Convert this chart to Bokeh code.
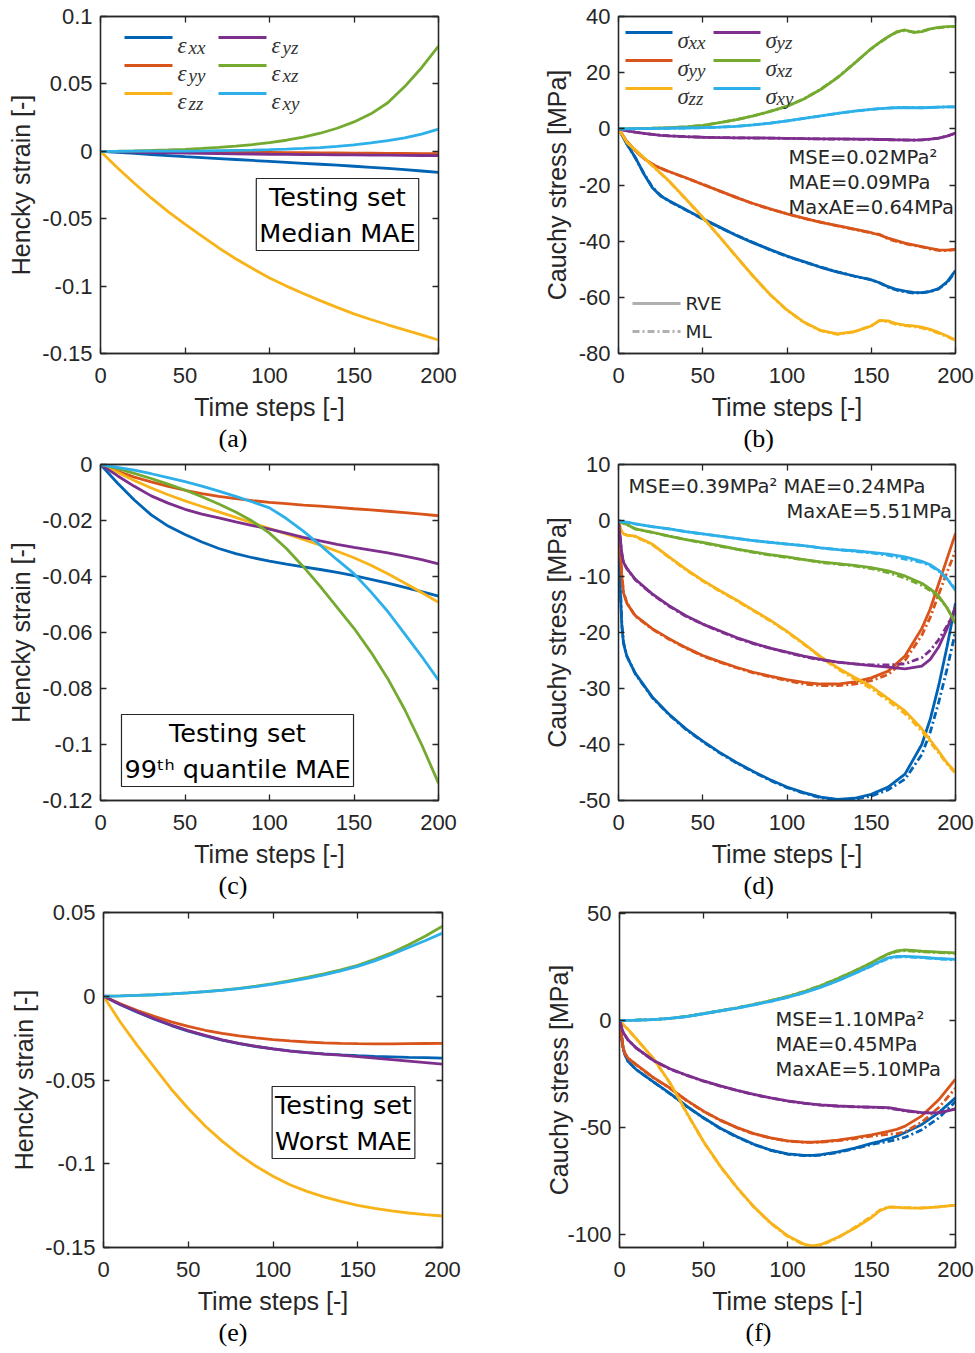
from bokeh.plotting import figure
from bokeh.layouts import column, row
from bokeh.models import Range1d, LinearAxis, FixedTicker, Label, Arrow, Title
from bokeh.embed import file_html
from bokeh.resources import INLINE

# ---------------- data ----------------
X_TICKS = [0, 50, 100, 150, 200]
X_TICK_LABELS = ["0", "50", "100", "150", "200"]
X_LABEL = "Time steps [-]"
STRAIN_LABEL = "Hencky strain [-]"
STRESS_LABEL = "Cauchy stress [MPa]"
COMPONENTS = ["xx", "yy", "zz", "yz", "xz", "xy"]

T10 = [0, 10, 20, 30, 40, 50, 60, 70, 80, 90, 100, 110, 120, 130, 140, 150, 160, 170, 180, 190, 200]

# (a) strain, median MAE
A_YTICKS = [-0.15, -0.1, -0.05, 0, 0.05, 0.1]
A_YTICK_LABELS = ["-0.15", "-0.1", "-0.05", "0", "0.05", "0.1"]
a_xx = [0, -0.0008, -0.0016, -0.0024, -0.0032, -0.0040, -0.0047, -0.0054, -0.0061, -0.0068, -0.0075, -0.0082, -0.0089, -0.0096, -0.0103, -0.0111, -0.0119, -0.0127, -0.0136, -0.0146, -0.0156]
a_yy = [0, -0.0001, -0.0002, -0.0003, -0.0004, -0.0005, -0.0006, -0.0006, -0.0007, -0.0008, -0.0009, -0.0010, -0.0010, -0.0011, -0.0012, -0.0013, -0.0014, -0.0015, -0.0016, -0.0017, -0.0018]
a_zz = [0, -0.0122, -0.0237, -0.0346, -0.0448, -0.0540, -0.0630, -0.0717, -0.0797, -0.0870, -0.0940, -0.1000, -0.1055, -0.1108, -0.1158, -0.1206, -0.1248, -0.1287, -0.1325, -0.1362, -0.1400]
a_yz = [0, -0.0003, -0.0006, -0.0009, -0.0011, -0.0013, -0.0015, -0.0017, -0.0019, -0.0020, -0.0022, -0.0023, -0.0024, -0.0025, -0.0026, -0.0027, -0.0028, -0.0029, -0.0030, -0.0031, -0.0032]
a_xz = [0, 0.0001, 0.0003, 0.0006, 0.0010, 0.0015, 0.0021, 0.0029, 0.0039, 0.0050, 0.0064, 0.0082, 0.0105, 0.0134, 0.0171, 0.0218, 0.0278, 0.0360, 0.0480, 0.0620, 0.0780]
a_xy = [0, 0.0000, 0.0001, 0.0001, 0.0002, 0.0002, 0.0003, 0.0005, 0.0007, 0.0009, 0.0012, 0.0016, 0.0021, 0.0028, 0.0037, 0.0048, 0.0062, 0.0079, 0.0100, 0.0128, 0.0164]

# (b) stress, median MAE
B_YTICKS = [-80, -60, -40, -20, 0, 20, 40]
B_YTICK_LABELS = ["-80", "-60", "-40", "-20", "0", "20", "40"]
T_B = [0, 5, 10, 15, 20, 25, 30, 40, 50, 60, 70, 80, 90, 100, 110, 120, 130, 140, 150, 155, 160, 165, 170, 175, 180, 185, 190, 195, 200]
b_rve_xx = [0, -5.5, -10.2, -16.0, -20.9, -23.9, -25.6, -28.8, -32.0, -35.0, -38.0, -40.6, -43.0, -45.3, -47.3, -49.3, -51.0, -52.4, -53.8, -54.8, -56.2, -57.2, -57.8, -58.2, -58.3, -57.9, -56.9, -54.5, -50.5]
b_rve_yy = [0, -4.5, -7.8, -10.5, -12.6, -14.0, -15.2, -17.4, -19.8, -22.1, -24.5, -26.6, -28.5, -30.3, -31.8, -33.3, -34.5, -35.7, -37.0, -37.8, -38.9, -39.8, -40.7, -41.3, -41.9, -42.6, -43.1, -43.2, -42.8]
b_rve_zz = [0, -4.8, -7.5, -10.2, -13.0, -15.8, -18.6, -25.0, -31.5, -38.5, -45.5, -52.5, -59.0, -64.5, -68.8, -71.8, -73.0, -72.2, -70.2, -68.2, -68.4, -69.4, -69.9, -70.2, -70.6, -71.4, -72.5, -73.8, -75.2]
b_rve_yz = [0, -0.7, -1.2, -1.6, -2.0, -2.3, -2.5, -2.8, -3.0, -3.1, -3.2, -3.2, -3.3, -3.4, -3.5, -3.6, -3.6, -3.7, -3.7, -3.8, -3.8, -3.9, -3.9, -4.0, -3.9, -3.7, -3.3, -2.6, -1.5]
b_rve_xz = [0, 0.05, 0.1, 0.15, 0.2, 0.3, 0.4, 0.7, 1.2, 2.2, 3.3, 4.6, 6.2, 8.0, 10.6, 14.0, 18.2, 23.3, 28.6, 30.8, 32.8, 34.5, 35.2, 34.3, 34.6, 35.6, 36.1, 36.4, 36.5]
b_rve_xy = [0, 0.0, 0.05, 0.1, 0.1, 0.15, 0.2, 0.3, 0.4, 0.6, 0.9, 1.4, 2.0, 2.8, 3.7, 4.6, 5.5, 6.3, 6.9, 7.2, 7.4, 7.5, 7.6, 7.5, 7.5, 7.6, 7.7, 7.8, 7.8]
b_ml_xx = [0, -5.3, -10.4, -15.8, -20.7, -23.7, -25.8, -28.9, -32.1, -35.1, -37.9, -40.5, -43.1, -45.4, -47.4, -49.2, -50.9, -52.5, -53.7, -54.9, -56.4, -57.4, -58.1, -58.5, -58.4, -58.0, -57.0, -54.8, -50.8]
b_ml_yy = [0, -4.6, -7.7, -10.6, -12.5, -14.1, -15.3, -17.5, -19.7, -22.2, -24.4, -26.7, -28.6, -30.2, -31.9, -33.2, -34.6, -35.8, -37.1, -37.6, -39.2, -40.1, -40.9, -41.5, -42.0, -42.8, -43.3, -43.4, -43.0]
b_ml_zz = [0, -4.9, -7.6, -10.3, -13.1, -15.9, -18.7, -25.1, -31.6, -38.4, -45.6, -52.6, -59.1, -64.6, -68.9, -71.9, -73.2, -72.3, -70.1, -68.3, -68.7, -69.7, -70.1, -70.4, -70.9, -71.7, -72.8, -74.0, -75.4]
b_ml_yz = [0, -0.7, -1.2, -1.6, -2.0, -2.3, -2.5, -2.8, -3.0, -3.1, -3.2, -3.3, -3.3, -3.4, -3.5, -3.6, -3.7, -3.7, -3.8, -3.8, -3.9, -3.9, -4.0, -4.0, -3.9, -3.7, -3.3, -2.6, -1.6]
b_ml_xz = [0, 0.05, 0.1, 0.15, 0.2, 0.3, 0.4, 0.7, 1.2, 2.2, 3.3, 4.6, 6.2, 8.1, 10.7, 14.1, 18.3, 23.4, 28.5, 30.7, 32.7, 34.4, 35.0, 34.5, 34.7, 35.6, 36.0, 36.3, 36.4]
b_ml_xy = [0, 0.0, 0.05, 0.1, 0.1, 0.15, 0.2, 0.3, 0.4, 0.6, 0.9, 1.4, 2.0, 2.8, 3.7, 4.6, 5.5, 6.3, 6.9, 7.2, 7.4, 7.6, 7.6, 7.6, 7.5, 7.6, 7.7, 7.8, 7.8]
B_STATS = ["MSE=0.02MPa\u00b2", "MAE=0.09MPa", "MaxAE=0.64MPa"]

# (c) strain, 99th quantile MAE
C_YTICKS = [-0.12, -0.1, -0.08, -0.06, -0.04, -0.02, 0]
C_YTICK_LABELS = ["-0.12", "-0.1", "-0.08", "-0.06", "-0.04", "-0.02", "0"]
c_xx = [0, -0.0066, -0.0127, -0.0180, -0.0220, -0.0250, -0.0277, -0.0300, -0.0318, -0.0333, -0.0345, -0.0356, -0.0366, -0.0375, -0.0385, -0.0397, -0.0410, -0.0424, -0.0439, -0.0454, -0.0470]
c_yy = [0, -0.0024, -0.0045, -0.0062, -0.0078, -0.0092, -0.0104, -0.0114, -0.0122, -0.0129, -0.0135, -0.0140, -0.0145, -0.0149, -0.0153, -0.0158, -0.0162, -0.0167, -0.0172, -0.0177, -0.0183]
c_zz = [0, -0.0028, -0.0057, -0.0084, -0.0108, -0.0130, -0.0150, -0.0169, -0.0189, -0.0209, -0.0229, -0.0248, -0.0268, -0.0288, -0.0310, -0.0333, -0.0360, -0.0390, -0.0423, -0.0457, -0.0492]
c_yz = [0, -0.0040, -0.0078, -0.0112, -0.0138, -0.0160, -0.0177, -0.0191, -0.0205, -0.0218, -0.0231, -0.0245, -0.0260, -0.0273, -0.0285, -0.0296, -0.0306, -0.0316, -0.0327, -0.0340, -0.0355]
c_xz = [0, -0.0015, -0.0032, -0.0050, -0.0070, -0.0091, -0.0115, -0.0141, -0.0170, -0.0203, -0.0245, -0.0300, -0.0365, -0.0435, -0.0510, -0.0585, -0.0670, -0.0765, -0.0875, -0.1000, -0.1138]
c_xy = [0, -0.0010, -0.0020, -0.0033, -0.0047, -0.0061, -0.0077, -0.0095, -0.0114, -0.0134, -0.0155, -0.0193, -0.0238, -0.0288, -0.0340, -0.0390, -0.0455, -0.0525, -0.0605, -0.0685, -0.0770]

# (d) stress, 99th quantile MAE
D_YTICKS = [-50, -40, -30, -20, -10, 0, 10]
D_YTICK_LABELS = ["-50", "-40", "-30", "-20", "-10", "0", "10"]
T_D = [0, 1, 2, 3, 5, 10, 20, 30, 40, 50, 60, 70, 80, 90, 100, 110, 120, 130, 140, 150, 160, 170, 180, 185, 190, 195, 200]
d_rve_xx = [0, -12, -19, -22, -24.3, -27.3, -31.5, -34.6, -37.2, -39.4, -41.4, -43.2, -44.8, -46.3, -47.6, -48.6, -49.4, -49.8, -49.6, -48.9, -47.6, -45.3, -40.0, -35.5, -29.5, -22.5, -14.8]
d_rve_yy = [0, -5, -10, -13, -14.8, -17.0, -19.3, -21.1, -22.7, -24.1, -25.2, -26.2, -27.1, -27.8, -28.4, -28.9, -29.2, -29.2, -28.8, -28.1, -26.9, -24.2, -19.3, -15.8, -11.3, -6.8, -2.3]
d_rve_zz = [0, -1.2, -2.0, -2.4, -2.6, -2.8, -4.2, -6.5, -8.7, -10.7, -12.5, -14.2, -16.0, -17.8, -19.8, -22.0, -24.3, -26.3, -28.0, -29.6, -31.8, -34.0, -37.2, -39.2, -41.2, -43.3, -44.9]
d_rve_yz = [0, -3, -6, -7.5, -8.6, -10.5, -13.1, -15.2, -17.0, -18.5, -19.7, -20.9, -21.9, -22.8, -23.5, -24.2, -24.8, -25.3, -25.6, -25.9, -26.2, -26.5, -26.0, -24.8, -22.6, -19.3, -15.5]
d_rve_xz = [0, -0.2, -0.4, -0.5, -0.7, -1.5, -2.1, -2.8, -3.4, -3.9, -4.5, -5.1, -5.6, -6.1, -6.5, -7.0, -7.4, -7.7, -8.0, -8.4, -9.0, -9.9, -11.2, -12.2, -13.5, -15.6, -18.4]
d_rve_xy = [0, -0.1, -0.2, -0.25, -0.3, -0.6, -1.1, -1.5, -2.0, -2.4, -2.8, -3.2, -3.6, -3.9, -4.2, -4.5, -4.9, -5.2, -5.4, -5.7, -6.0, -6.5, -7.3, -7.9, -8.9, -10.4, -12.5]
d_ml_xx = [0, -11, -18.5, -21.8, -24.2, -27.4, -31.6, -34.7, -37.3, -39.5, -41.5, -43.3, -44.9, -46.4, -47.7, -48.7, -49.5, -49.9, -49.8, -49.2, -48.1, -46.2, -41.8, -37.8, -32.5, -26.5, -19.8]
d_ml_yy = [0, -4.8, -9.8, -12.8, -14.7, -17.1, -19.4, -21.2, -22.8, -24.2, -25.3, -26.3, -27.2, -27.9, -28.6, -29.2, -29.5, -29.5, -29.2, -28.6, -27.5, -25.0, -20.5, -17.3, -13.2, -9.2, -5.4]
d_ml_zz = [0, -1.2, -2.0, -2.4, -2.6, -2.9, -4.3, -6.6, -8.8, -10.8, -12.6, -14.3, -16.1, -17.9, -19.9, -22.1, -24.4, -26.5, -28.3, -30.0, -32.2, -34.5, -37.6, -39.6, -41.5, -43.5, -45.1]
d_ml_yz = [0, -3, -6, -7.5, -8.6, -10.6, -13.2, -15.3, -17.1, -18.5, -19.8, -21.0, -22.0, -22.8, -23.6, -24.3, -24.9, -25.3, -25.6, -25.8, -25.8, -25.6, -24.5, -23.2, -21.3, -18.8, -15.8]
d_ml_xz = [0, -0.2, -0.4, -0.5, -0.7, -1.5, -2.1, -2.8, -3.4, -4.0, -4.6, -5.1, -5.7, -6.2, -6.6, -7.0, -7.5, -7.8, -8.1, -8.6, -9.3, -10.3, -11.6, -12.5, -13.7, -15.6, -18.2]
d_ml_xy = [0, -0.1, -0.2, -0.25, -0.3, -0.6, -1.1, -1.5, -2.0, -2.4, -2.8, -3.2, -3.6, -3.9, -4.2, -4.5, -4.9, -5.2, -5.5, -5.8, -6.2, -6.9, -7.5, -8.1, -9.0, -10.4, -12.3]
D_STATS = ["MSE=0.39MPa\u00b2 MAE=0.24MPa", "MaxAE=5.51MPa"]

# (e) strain, worst MAE
E_YTICKS = [-0.15, -0.1, -0.05, 0, 0.05]
E_YTICK_LABELS = ["-0.15", "-0.1", "-0.05", "0", "0.05"]
e_xx = [0, -0.0050, -0.0095, -0.0137, -0.0175, -0.0208, -0.0237, -0.0262, -0.0283, -0.0300, -0.0314, -0.0326, -0.0336, -0.0344, -0.0350, -0.0355, -0.0359, -0.0362, -0.0365, -0.0367, -0.0369]
e_yy = [0, -0.0045, -0.0085, -0.0120, -0.0153, -0.0180, -0.0203, -0.0222, -0.0237, -0.0249, -0.0259, -0.0267, -0.0273, -0.0278, -0.0281, -0.0283, -0.0284, -0.0284, -0.0283, -0.0282, -0.0281]
e_zz = [0, -0.0155, -0.0295, -0.0425, -0.0555, -0.0670, -0.0775, -0.0865, -0.0945, -0.1015, -0.1075, -0.1125, -0.1165, -0.1198, -0.1225, -0.1248, -0.1266, -0.1281, -0.1294, -0.1304, -0.1312]
e_yz = [0, -0.0049, -0.0093, -0.0134, -0.0172, -0.0205, -0.0234, -0.0260, -0.0281, -0.0299, -0.0314, -0.0327, -0.0337, -0.0345, -0.0352, -0.0360, -0.0369, -0.0378, -0.0387, -0.0396, -0.0405]
e_xz = [0, 0.0002, 0.0005, 0.0009, 0.0014, 0.0020, 0.0027, 0.0036, 0.0047, 0.0060, 0.0076, 0.0093, 0.0112, 0.0133, 0.0157, 0.0185, 0.0220, 0.0260, 0.0307, 0.0360, 0.0418]
e_xy = [0, 0.0002, 0.0005, 0.0009, 0.0014, 0.0020, 0.0027, 0.0035, 0.0045, 0.0058, 0.0073, 0.0089, 0.0107, 0.0128, 0.0151, 0.0178, 0.0211, 0.0249, 0.0291, 0.0333, 0.0377]

# (f) stress, worst MAE
F_YTICKS = [-100, -50, 0, 50]
F_YTICK_LABELS = ["-100", "-50", "0", "50"]
T_F = [0, 1, 2, 3, 5, 10, 20, 30, 40, 50, 60, 70, 80, 90, 100, 110, 115, 120, 130, 140, 150, 155, 160, 165, 170, 180, 190, 200]
f_rve_xx = [0, -6, -12, -15.5, -19, -22.9, -28.5, -34.0, -40.0, -45.4, -50.3, -54.3, -57.8, -60.5, -62.3, -63.0, -63.0, -62.6, -61.3, -59.6, -57.4, -56.4, -55.3, -54.0, -52.3, -48.5, -43.0, -36.1]
f_rve_yy = [0, -6, -12, -15, -17.5, -20.6, -26.5, -31.5, -37.3, -42.3, -46.5, -50.0, -52.8, -54.8, -56.2, -56.8, -56.8, -56.6, -55.8, -54.7, -53.4, -52.6, -51.8, -50.8, -49.3, -44.5, -37.0, -27.4]
f_rve_zz = [0, -0.8, -1.7, -2.5, -4.0, -8.5, -17.5, -29.0, -43.0, -56.5, -68.0, -78.0, -87.0, -94.5, -100.5, -104.5, -105.2, -104.6, -101.2, -97.0, -92.0, -88.8, -87.2, -87.3, -87.5, -87.6, -87.0, -86.2]
f_rve_yz = [0, -2.5, -5.0, -6.5, -9.0, -12.8, -18.5, -22.5, -25.5, -28.2, -30.5, -32.6, -34.5, -36.1, -37.5, -38.6, -39.0, -39.4, -39.9, -40.2, -40.4, -40.5, -40.7, -41.3, -42.0, -43.0, -43.1, -41.4]
f_rve_xz = [0, 0.0, 0.0, 0.05, 0.1, 0.2, 0.5, 1.0, 2.0, 3.3, 4.6, 6.0, 7.6, 9.3, 11.2, 13.6, 15.0, 16.4, 19.6, 23.2, 27.0, 29.2, 31.2, 32.6, 33.0, 32.4, 32.0, 31.6]
f_rve_xy = [0, 0.0, 0.0, 0.05, 0.1, 0.2, 0.5, 1.0, 1.9, 3.2, 4.5, 5.8, 7.4, 9.0, 10.8, 13.0, 14.3, 15.6, 18.6, 22.0, 25.6, 27.6, 29.3, 30.0, 30.0, 29.6, 29.0, 28.6]
f_ml_xx = [0, -6, -12, -15.5, -19, -22.9, -28.6, -34.1, -40.1, -45.5, -50.4, -54.4, -57.9, -60.6, -62.4, -63.1, -63.1, -62.8, -61.6, -59.9, -57.8, -57.1, -56.4, -55.6, -54.5, -51.0, -45.5, -37.8]
f_ml_yy = [0, -6, -12, -15, -17.5, -20.7, -26.6, -31.6, -37.4, -42.4, -46.6, -50.1, -52.9, -54.9, -56.3, -56.9, -56.9, -56.8, -56.1, -55.1, -54.0, -53.5, -53.1, -52.8, -51.9, -47.4, -40.6, -31.6]
f_ml_zz = [0, -0.8, -1.7, -2.5, -4.1, -8.6, -17.6, -29.2, -43.2, -56.7, -68.2, -78.2, -87.1, -94.7, -100.8, -104.8, -105.6, -105.0, -101.5, -96.6, -91.4, -88.5, -87.0, -87.1, -87.4, -87.5, -87.0, -86.3]
f_ml_yz = [0, -2.5, -5.0, -6.5, -9.0, -12.9, -18.6, -22.6, -25.6, -28.3, -30.6, -32.7, -34.6, -36.2, -37.6, -38.7, -39.1, -39.5, -40.0, -40.3, -40.5, -40.6, -40.9, -41.5, -42.2, -43.1, -43.0, -41.2]
f_ml_xz = [0, 0.0, 0.0, 0.05, 0.1, 0.2, 0.5, 1.0, 2.0, 3.3, 4.6, 6.0, 7.6, 9.3, 11.3, 13.7, 15.1, 16.5, 19.7, 23.3, 27.0, 29.1, 31.0, 32.3, 32.7, 32.2, 31.8, 31.4]
f_ml_xy = [0, 0.0, 0.0, 0.05, 0.1, 0.2, 0.5, 1.0, 1.9, 3.2, 4.5, 5.8, 7.4, 9.0, 10.9, 13.1, 14.4, 15.7, 18.7, 22.1, 25.5, 27.4, 29.0, 29.7, 29.8, 29.4, 28.8, 28.3]
F_STATS = ["MSE=1.10MPa\u00b2", "MAE=0.45MPa", "MaxAE=5.10MPa"]

BOX_A = "Testing set\nMedian MAE"
BOX_C = "Testing set\n99\u1d57\u02b0 quantile MAE"
BOX_E = "Testing set\nWorst MAE"
CAPTIONS = ["(a)", "(b)", "(c)", "(d)", "(e)", "(f)"]

# ---------------- styles ----------------
COLORS = {"xx": "#0063B4", "yy": "#D9541A", "zz": "#F7B318",
          "yz": "#7E2F8E", "xz": "#74AA30", "xy": "#2DB0EA"}
AX_COL = "#262626"
AX_FONT = "Liberation Sans"
TXT_FONT = "DejaVu Sans"
LW = 2.8
ML_DASH = "7 3 2 3"
STAT_SIZE = 19.5


def make_fig(width, height, left, top, frame_w, frame_h, y_range, y_ticks, y_tick_labels,
             y_label, y_label_standoff, caption, caption_left):
    right = width - left - frame_w
    bottom = height - top - frame_h
    p = figure(width=width, height=height,
               x_range=Range1d(X_TICKS[0], X_TICKS[-1]), y_range=Range1d(*y_range),
               output_backend="svg", toolbar_location=None,
               min_border_left=left, min_border_right=right,
               min_border_top=top, min_border_bottom=bottom,
               background_fill_color="white", border_fill_color="white",
               outline_line_color=AX_COL, outline_line_width=1.3)
    p.xgrid.visible = False
    p.ygrid.visible = False

    xa = p.xaxis[0]
    ya = p.yaxis[0]
    xa.ticker = FixedTicker(ticks=X_TICKS)
    xa.major_label_overrides = {t: s for t, s in zip(X_TICKS, X_TICK_LABELS)}
    ya.ticker = FixedTicker(ticks=y_ticks)
    ya.major_label_overrides = {t: s for t, s in zip(y_ticks, y_tick_labels)}
    xa.axis_label = X_LABEL
    ya.axis_label = y_label
    for ax in (xa, ya):
        ax.major_tick_in = 6
        ax.major_tick_out = 0
        ax.minor_tick_line_color = None
        ax.axis_line_color = AX_COL
        ax.axis_line_width = 1.3
        ax.major_tick_line_color = AX_COL
        ax.major_tick_line_width = 1.3
        ax.major_label_text_font = AX_FONT
        ax.major_label_text_font_size = "22px"
        ax.major_label_text_color = AX_COL
        ax.axis_label_text_font = AX_FONT
        ax.axis_label_text_font_size = "25px"
        ax.axis_label_text_font_style = "normal"
        ax.axis_label_text_color = AX_COL
    xa.major_label_standoff = 14
    xa.axis_label_standoff = 7
    ya.major_label_standoff = 8
    ya.axis_label_standoff = y_label_standoff

    for side, ticks in (("above", X_TICKS), ("right", y_ticks)):
        ax = LinearAxis(ticker=FixedTicker(ticks=ticks),
                        major_label_text_font_size="1px", major_label_text_alpha=0,
                        major_label_standoff=0, major_tick_in=6, major_tick_out=0,
                        minor_tick_line_color=None, axis_line_color=AX_COL,
                        axis_line_width=1.3, major_tick_line_color=AX_COL,
                        major_tick_line_width=1.3)
        p.add_layout(ax, side)

    p.add_layout(Title(text=caption, align="left", offset=caption_left,
                       text_font="Liberation Serif", text_font_size="26px",
                       text_font_style="normal", text_color="black",
                       standoff=-4, vertical_align="bottom"), "below")
    return p


def draw_strain(p, t, series):
    for c in COMPONENTS:
        p.line(t, series[c], line_color=COLORS[c], line_width=LW)


def draw_stress(p, t, rve, ml):
    for c in COMPONENTS:
        p.line(t, rve[c], line_color=COLORS[c], line_width=LW)
        p.line(t, ml[c], line_color=COLORS[c], line_width=LW, line_dash=ML_DASH)


def add_text(p, x, y, text, size, font=TXT_FONT, align="left", baseline="middle",
             style="normal", color=AX_COL, **kw):
    p.add_layout(Label(x=x, y=y, x_units="screen", y_units="screen", text=text,
                       text_font=font, text_font_size=f"{size}px", text_align=align,
                       text_baseline=baseline, text_font_style=style, text_color=color, **kw))


def add_seg(p, x0, x1, y, color, dash="solid"):
    p.add_layout(Arrow(end=None, start=None, x_start=x0, y_start=y, x_end=x1, y_end=y,
                       start_units="screen", end_units="screen",
                       line_color=color, line_width=3, line_dash=dash))


def add_component_legend(p, greek, x_cols, y_rows, line_len):
    cols = [["xx", "yy", "zz"], ["yz", "xz", "xy"]]
    for ci, comps in enumerate(cols):
        for ri, comp in enumerate(comps):
            x0 = x_cols[ci]
            y = y_rows[ri]
            add_seg(p, x0, x0 + line_len, y, COLORS[comp])
            xt = x0 + line_len + 5
            add_text(p, xt, y - 8, greek, 23, font="Liberation Serif", style="italic",
                     baseline="alphabetic", color="#333333")
            add_text(p, xt + 11, y - 10, comp, 19, font="Liberation Serif", style="italic",
                     baseline="alphabetic", color="#333333")


def add_box(p, x, y, text):
    add_text(p, x, y, text, 25.5, align="center", baseline="middle", color="black",
             border_line_color=AX_COL, border_line_width=1.2,
             background_fill_color="white", padding=3)


# ---------------- panels ----------------
strain_a = dict(zip(COMPONENTS, [a_xx, a_yy, a_zz, a_yz, a_xz, a_xy]))
strain_c = dict(zip(COMPONENTS, [c_xx, c_yy, c_zz, c_yz, c_xz, c_xy]))
strain_e = dict(zip(COMPONENTS, [e_xx, e_yy, e_zz, e_yz, e_xz, e_xy]))
rve_b = dict(zip(COMPONENTS, [b_rve_xx, b_rve_yy, b_rve_zz, b_rve_yz, b_rve_xz, b_rve_xy]))
ml_b = dict(zip(COMPONENTS, [b_ml_xx, b_ml_yy, b_ml_zz, b_ml_yz, b_ml_xz, b_ml_xy]))
rve_d = dict(zip(COMPONENTS, [d_rve_xx, d_rve_yy, d_rve_zz, d_rve_yz, d_rve_xz, d_rve_xy]))
ml_d = dict(zip(COMPONENTS, [d_ml_xx, d_ml_yy, d_ml_zz, d_ml_yz, d_ml_xz, d_ml_xy]))
rve_f = dict(zip(COMPONENTS, [f_rve_xx, f_rve_yy, f_rve_zz, f_rve_yz, f_rve_xz, f_rve_xy]))
ml_f = dict(zip(COMPONENTS, [f_ml_xx, f_ml_yy, f_ml_zz, f_ml_yz, f_ml_xz, f_ml_xy]))

ROW_H = [452, 447, 454]

# (a)
pa = make_fig(530, ROW_H[0], 100, 16, 338, 337, (A_YTICKS[0], A_YTICKS[-1]), A_YTICKS, A_YTICK_LABELS,
              STRAIN_LABEL, 4, CAPTIONS[0], 118)
draw_strain(pa, T10, strain_a)
add_component_legend(pa, "\u03b5", [24, 118], [316, 288, 260], 48)
add_box(pa, 237, 139, BOX_A)

# (b)
pb = make_fig(445, ROW_H[0], 88, 16, 337, 337, (B_YTICKS[0], B_YTICKS[-1]), B_YTICKS, B_YTICK_LABELS,
              STRESS_LABEL, 5, CAPTIONS[1], 125)
draw_stress(pb, T_B, rve_b, ml_b)
add_component_legend(pb, "\u03c3", [7, 95], [321, 293, 265], 47)
add_seg(pb, 14, 62, 50, "#B0B0B0")
add_seg(pb, 14, 62, 22, "#B0B0B0", ML_DASH)
add_text(pb, 67, 50, "RVE", 18.5)
add_text(pb, 67, 22, "ML", 18.5)
for i, s in enumerate(B_STATS):
    add_text(pb, 170, 196 - 25 * i, s, STAT_SIZE)

# (c)
pc = make_fig(530, ROW_H[1], 100, 11, 338, 338, (C_YTICKS[0], C_YTICKS[-1]), C_YTICKS, C_YTICK_LABELS,
              STRAIN_LABEL, 4, CAPTIONS[2], 118)
draw_strain(pc, T10, strain_c)
add_box(pc, 137, 50, BOX_C)

# (d)
pd_ = make_fig(445, ROW_H[1], 88, 12, 337, 336, (D_YTICKS[0], D_YTICKS[-1]), D_YTICKS, D_YTICK_LABELS,
               STRESS_LABEL, 5, CAPTIONS[3], 125)
draw_stress(pd_, T_D, rve_d, ml_d)
add_text(pd_, 10, 314, D_STATS[0], STAT_SIZE)
add_text(pd_, 168, 289, D_STATS[1], STAT_SIZE)

# (e)
pe = make_fig(530, ROW_H[2], 103, 13, 339, 337, (E_YTICKS[0], E_YTICKS[-1]), E_YTICKS, E_YTICK_LABELS,
              STRAIN_LABEL, 4, CAPTIONS[4], 115)
draw_strain(pe, T10, strain_e)
add_box(pe, 240, 125, BOX_E)

# (f)
pf = make_fig(445, ROW_H[2], 89, 11, 336, 337, (-106, 50.5), F_YTICKS, F_YTICK_LABELS,
              STRESS_LABEL, -9, CAPTIONS[5], 126)
draw_stress(pf, T_F, rve_f, ml_f)
for i, s in enumerate(F_STATS):
    add_text(pf, 156, 228 - 25 * i, s, STAT_SIZE)

layout = column(row(pa, pb), row(pc, pd_), row(pe, pf))
open("out.html", "w").write(file_html(layout, INLINE))
